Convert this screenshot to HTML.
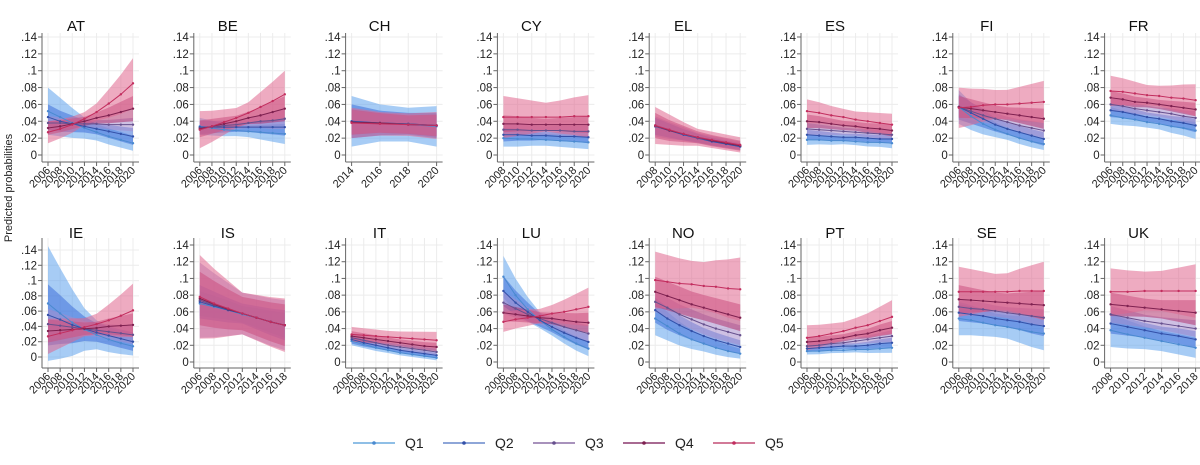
<!DOCTYPE html>
<html><head><meta charset="utf-8"><style>
html,body{margin:0;padding:0;background:#fff;}
svg{display:block;font-family:"Liberation Sans",sans-serif;}
</style></head><body>
<svg id="chart" width="1200" height="465" viewBox="0 0 1200 465"></svg>
<script>
const countries=["AT","BE","CH","CY","EL","ES","FI","FR","IE","IS","IT","LU","NO","PT","SE","UK"];
const yearsFull=[2006,2008,2010,2012,2014,2016,2018,2020];
const years={AT:yearsFull,BE:yearsFull,CH:[2014,2016,2018,2020],CY:[2008,2010,2012,2014,2016,2018,2020],EL:[2008,2010,2012,2014,2016,2018,2020],ES:yearsFull,FI:yearsFull,FR:yearsFull,IE:yearsFull,IS:[2006,2008,2010,2012,2014,2016,2018],IT:yearsFull,LU:yearsFull,NO:yearsFull,PT:yearsFull,SE:yearsFull,UK:[2008,2010,2012,2014,2016,2018]};
const yTicks=[0,0.02,0.04,0.06,0.08,0.1,0.12,0.14];
const yTickLabels=["0",".02",".04",".06",".08",".1",".12",".14"];
const seriesNames=["Q1","Q2","Q3","Q4","Q5"];
const vals={
AT:[[.052,.045,.038,.032,.027,.022,.018,.014],[.045,.040,.037,.034,.031,.028,.025,.022],[.038,.038,.037,.037,.037,.036,.036,.036],[.032,.034,.037,.040,.044,.047,.051,.055],[.027,.031,.036,.043,.051,.061,.072,.085]],
BE:[[.034,.032,.030,.029,.028,.027,.026,.025],[.033,.033,.033,.033,.033,.033,.033,.033],[.032,.033,.035,.036,.038,.040,.041,.043],[.031,.034,.037,.040,.044,.047,.051,.055],[.030,.034,.039,.044,.050,.057,.064,.072]],
CH:[[.040,.038,.036,.034],[.040,.038,.037,.035],[.039,.038,.037,.035],[.039,.038,.036,.035],[.038,.037,.036,.035]],
CY:[[.020,.019,.019,.018,.017,.016,.015],[.024,.024,.023,.023,.022,.022,.021],[.030,.030,.029,.029,.029,.028,.028],[.037,.037,.036,.036,.036,.036,.036],[.045,.045,.045,.045,.045,.046,.046]],
EL:[[.034,.029,.024,.020,.016,.013,.010],[.034,.029,.024,.020,.016,.013,.010],[.034,.029,.025,.020,.017,.014,.011],[.035,.029,.025,.021,.017,.014,.011],[.035,.030,.025,.021,.018,.015,.012]],
ES:[[.018,.018,.017,.017,.016,.015,.015,.014],[.024,.023,.022,.021,.021,.020,.019,.019],[.031,.030,.029,.028,.027,.026,.025,.024],[.040,.039,.037,.035,.034,.032,.031,.029],[.052,.050,.047,.045,.042,.040,.038,.036]],
FI:[[.057,.046,.037,.030,.025,.020,.016,.013],[.057,.050,.043,.036,.031,.027,.023,.019],[.057,.052,.047,.043,.039,.035,.032,.029],[.057,.055,.053,.051,.049,.047,.045,.043],[.056,.057,.059,.060,.060,.061,.062,.063]],
FR:[[.047,.044,.042,.039,.037,.034,.032,.029],[.053,.051,.048,.045,.043,.040,.038,.035],[.060,.058,.055,.053,.051,.049,.046,.044],[.068,.066,.063,.062,.060,.058,.056,.054],[.076,.075,.073,.071,.070,.068,.067,.065]],
IE:[[.070,.057,.045,.036,.029,.023,.018,.014],[.055,.049,.042,.037,.032,.028,.024,.020],[.043,.041,.039,.037,.035,.033,.031,.029],[.034,.035,.036,.037,.038,.040,.041,.042],[.027,.031,.035,.039,.043,.048,.054,.061]],
IS:[[.070,.066,.062,.057,.053,.048,.044],[.072,.067,.062,.058,.053,.048,.044],[.074,.068,.063,.058,.053,.048,.044],[.076,.069,.063,.058,.053,.048,.044],[.078,.070,.064,.058,.053,.048,.044]],
IT:[[.025,.021,.017,.014,.011,.009,.007,.005],[.027,.023,.020,.017,.014,.012,.010,.008],[.029,.026,.023,.020,.018,.016,.014,.012],[.031,.029,.027,.025,.023,.021,.019,.018],[.033,.032,.031,.030,.029,.028,.027,.026]],
LU:[[.102,.080,.063,.050,.039,.030,.022,.016],[.085,.071,.060,.050,.042,.035,.029,.024],[.071,.064,.057,.052,.047,.042,.038,.034],[.059,.057,.055,.053,.052,.050,.048,.047],[.048,.051,.053,.055,.058,.060,.063,.066]],
NO:[[.052,.043,.034,.027,.022,.017,.013,.010],[.062,.052,.044,.037,.031,.026,.022,.018],[.072,.065,.057,.051,.045,.040,.036,.032],[.084,.079,.074,.069,.065,.061,.057,.053],[.098,.096,.094,.093,.091,.090,.088,.087]],
PT:[[.013,.013,.014,.014,.015,.015,.016,.017],[.016,.017,.018,.019,.019,.020,.022,.023],[.019,.020,.022,.023,.025,.027,.029,.031],[.024,.025,.027,.029,.032,.034,.038,.041],[.029,.031,.034,.037,.041,.044,.049,.054]],
SE:[[.052,.050,.047,.044,.042,.039,.036,.034],[.059,.057,.055,.052,.050,.048,.045,.043],[.066,.064,.063,.061,.059,.057,.055,.053],[.075,.074,.073,.072,.071,.070,.069,.068],[.084,.084,.084,.084,.084,.085,.085,.085]],
UK:[[.038,.033,.029,.025,.021,.017],[.046,.042,.038,.034,.031,.027],[.057,.053,.049,.046,.043,.040],[.069,.067,.065,.063,.061,.059],[.084,.084,.085,.085,.085,.085]]
};
const ciHalf={
AT:[[.028,.01,.009],[.015,.006,.01],[.008,.004,.008],[.008,.005,.015],[.013,.007,.03]],
BE:[[.01,.006,.012],[.008,.005,.01],[.008,.005,.012],[.01,.006,.015],[.022,.01,.028]],
CH:[[.03,.018,.024],[.02,.012,.015],[.014,.01,.012],[.015,.01,.013],[.018,.012,.016]],
CY:[[.01,.007,.008],[.008,.005,.007],[.008,.005,.007],[.01,.007,.01],[.025,.017,.025]],
EL:[[.01,.005,.003],[.01,.005,.004],[.012,.006,.005],[.015,.007,.006],[.022,.01,.009]],
ES:[[.006,.004,.006],[.006,.004,.005],[.007,.004,.006],[.008,.005,.007],[.014,.009,.013]],
FI:[[.02,.007,.007],[.015,.007,.008],[.012,.006,.009],[.013,.007,.012],[.024,.016,.025]],
FR:[[.01,.006,.01],[.008,.005,.008],[.008,.005,.008],[.008,.005,.008],[.018,.011,.019]],
IE:[[.075,.02,.012],[.04,.012,.012],[.02,.008,.012],[.015,.007,.015],[.023,.01,.035]],
IS:[[.015,.01,.015],[.02,.012,.018],[.045,.025,.03],[.032,.02,.025],[.05,.025,.032]],
IT:[[.005,.003,.003],[.005,.003,.003],[.005,.003,.004],[.006,.004,.005],[.009,.007,.01]],
LU:[[.025,.007,.009],[.018,.006,.009],[.013,.006,.01],[.01,.006,.012],[.012,.008,.023]],
NO:[[.02,.01,.006],[.015,.01,.008],[.012,.012,.012],[.018,.015,.016],[.034,.027,.038]],
PT:[[.004,.003,.006],[.004,.003,.006],[.005,.003,.007],[.006,.004,.008],[.015,.01,.02]],
SE:[[.02,.013,.02],[.01,.008,.012],[.01,.006,.01],[.017,.01,.017],[.03,.02,.035]],
UK:[[.02,.012,.012],[.012,.008,.01],[.01,.007,.01],[.014,.01,.015],[.028,.022,.032]]
};
const bandColors=["#5ea3ec","#3f6fd8","#a58ccc","#b3356f","#e0668e"];
const lineColors=["#4a8ad0","#3350a8","#66508e","#7e2150","#c22d5e"];
const legendColors=["#8fbfe6","#8ea6d8","#a892bc","#a86a92","#d27a98"];
const NS="http://www.w3.org/2000/svg";
const svg=document.getElementById("chart");
function mk(tag,attrs,parent){const e=document.createElementNS(NS,tag);for(const k in attrs)e.setAttribute(k,attrs[k]);(parent||svg).appendChild(e);return e;}

countries.forEach((c,i)=>{
  const col=i%8,row=Math.floor(i/8);
  const x0=48+151.8*col,pw=85;
  let y0=row?362:155,y14=row?245:37;
  if(c==="IE"){y0=357;y14=250;}
  const axB=(row?368:162),axT=(row?238:33);
  const yr=years[c];
  const xs=v=>x0+(v-yr[0])/(yr[yr.length-1]-yr[0])*pw;
  const ys=v=>y0-v/0.14*(y0-y14);
  const g=mk("g",{});
  
  
  yTicks.forEach(t=>{const l=mk("line",{x1:x0-6,x2:x0+pw+6,y1:ys(t),y2:ys(t),stroke:"#ececec","stroke-width":1},g);});
  yr.forEach(t=>{const l=mk("line",{x1:xs(t),x2:xs(t),y1:axT,y2:axB,stroke:"#ececec","stroke-width":1},g);});
  vals[c].forEach((s,q)=>{
    const h=ciHalf[c][q],n=s.length;
    const hw=k=>{const t=k/(n-1)*2;return t<=1?h[0]+(h[1]-h[0])*t:h[1]+(h[2]-h[1])*(t-1);};
    let up=[],lo=[];
    s.forEach((v,k)=>{up.push(xs(yr[k])+","+ys(v+hw(k)));lo.unshift(xs(yr[k])+","+ys(Math.max(v-hw(k),c==="IE"?-0.01:-0.002)));});
    const p=mk("polygon",{points:up.concat(lo).join(" "),fill:bandColors[q],"fill-opacity":0.55},g);
    
    
  });
  vals[c].forEach((s,q)=>{
    const pl=mk("polyline",{points:s.map((v,k)=>xs(yr[k])+","+ys(v)).join(" "),fill:"none",stroke:lineColors[q],"stroke-width":1},g);
    
    
    s.forEach((v,k)=>{const m=mk("circle",{cx:xs(yr[k]),cy:ys(v),r:1.2,fill:lineColors[q]},g);});
  });
  const ya=mk("line",{x1:x0-6,x2:x0-6,y1:axT,y2:axB,stroke:"#666","stroke-width":1},g);
  
  const xa=mk("line",{x1:x0-6,x2:x0+pw+6,y1:axB,y2:axB,stroke:"#666","stroke-width":1},g);
  
  yTicks.forEach((t,k)=>{
    mk("line",{x1:x0-10,x2:x0-6,y1:ys(t),y2:ys(t),stroke:"#666"},g);
    const tx=mk("text",{x:x0-11,y:ys(t)+4,"text-anchor":"end","font-size":11.5,fill:"#222"},g);
    tx.textContent=yTickLabels[k];
    
  });
  yr.forEach(t=>{
    mk("line",{x1:xs(t),x2:xs(t),y1:axB,y2:axB+4,stroke:"#666"},g);
    const tx=mk("text",{x:xs(t)+3,y:axB+9,"text-anchor":"end","font-size":11,fill:"#222",transform:`rotate(-45 ${xs(t)+3} ${axB+9})`},g);
    tx.textContent=t;
    
  });
  const ti=mk("text",{x:x0+28,y:row?238:31,"text-anchor":"middle","font-size":15,fill:"#111"},g);
  ti.textContent=c;
  
});
const yt=mk("text",{x:12,y:188,"text-anchor":"middle","font-size":11,fill:"#222",transform:"rotate(-90 12 188)"});
yt.textContent="Predicted probabilities";

seriesNames.forEach((n,q)=>{
  const lx=353+90*q;
  const g=mk("g",{});
  
  
  mk("line",{x1:lx,x2:lx+42,y1:443,y2:443,stroke:legendColors[q],"stroke-width":2},g);
  mk("circle",{cx:lx+21,cy:443,r:1.8,fill:lineColors[q]},g);
  const t=mk("text",{x:lx+52,y:448,"font-size":14,fill:"#222"},g);
  t.textContent=n;
});
</script>
</body></html>
